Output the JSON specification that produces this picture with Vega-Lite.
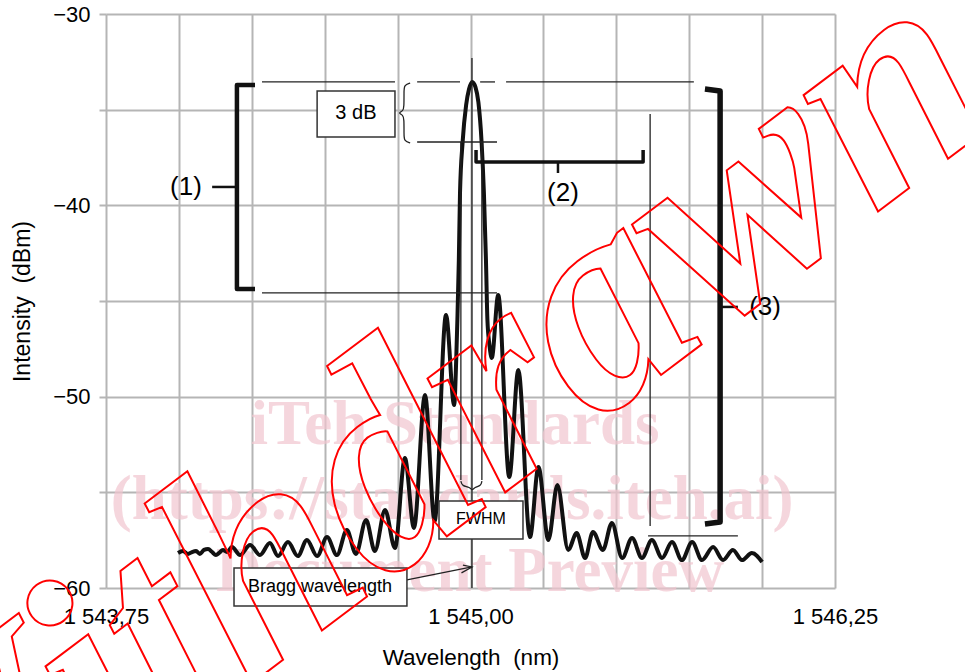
{
"$schema":"https://vega.github.io/schema/vega-lite/v6.json",
"width":729,"height":574,"autosize":"none",
"padding":{"left":106,"top":14,"right":130,"bottom":84},
"background":"white",
"config":{"view":{"stroke":null},"font":"Liberation Sans"},
"datasets":{
"curve":[
{"x":1543.997,"y":-58.17},{"x":1544.014,"y":-58.07},{"x":1544.031,"y":-58.22},{"x":1544.045,"y":-58.12},{"x":1544.059,"y":-58.07},{"x":1544.072,"y":-58.22},{"x":1544.086,"y":-58.01},{"x":1544.100,"y":-57.96},{"x":1544.114,"y":-58.12},{"x":1544.127,"y":-58.28},{"x":1544.138,"y":-58.17},{"x":1544.151,"y":-58.01},{"x":1544.165,"y":-58.12},
{"x":1544.182,"y":-57.86},{"x":1544.210,"y":-58.28},{"x":1544.244,"y":-57.75},{"x":1544.278,"y":-58.28},{"x":1544.312,"y":-57.65},{"x":1544.340,"y":-58.33},{"x":1544.374,"y":-57.60},{"x":1544.408,"y":-58.33},{"x":1544.439,"y":-57.49},{"x":1544.474,"y":-58.33},{"x":1544.508,"y":-57.34},{"x":1544.542,"y":-58.28},{"x":1544.576,"y":-56.97},{"x":1544.607,"y":-58.22},{"x":1544.642,"y":-56.45},{"x":1544.672,"y":-58.07},{"x":1544.707,"y":-55.92},{"x":1544.741,"y":-57.91},{"x":1544.775,"y":-53.21},{"x":1544.806,"y":-56.86},{"x":1544.844,"y":-49.91},{"x":1544.877,"y":-56.50},{"x":1544.916,"y":-45.73},{"x":1544.944,"y":-50.44},{"x":1544.951,"y":-48.08},{"x":1544.955,"y":-45.99},{"x":1544.960,"y":-42.86},{"x":1544.964,"y":-39.36},{"x":1544.973,"y":-36.69},{"x":1544.985,"y":-34.76},{"x":1544.995,"y":-33.92},{"x":1545.006,"y":-33.55},{"x":1545.017,"y":-33.82},{"x":1545.027,"y":-34.60},{"x":1545.038,"y":-36.69},{"x":1545.046,"y":-39.36},{"x":1545.053,"y":-42.86},{"x":1545.058,"y":-45.99},{"x":1545.065,"y":-47.30},{"x":1545.073,"y":-47.98},{"x":1545.095,"y":-44.69},{"x":1545.133,"y":-54.20},{"x":1545.164,"y":-48.61},{"x":1545.204,"y":-57.34},{"x":1545.233,"y":-53.68},{"x":1545.267,"y":-57.49},{"x":1545.298,"y":-54.62},{"x":1545.335,"y":-58.01},{"x":1545.364,"y":-57.13},{"x":1545.393,"y":-58.43},{"x":1545.420,"y":-57.07},{"x":1545.454,"y":-58.01},{"x":1545.485,"y":-56.60},{"x":1545.520,"y":-58.43},{"x":1545.554,"y":-57.39},{"x":1545.588,"y":-58.43},{"x":1545.622,"y":-57.49},{"x":1545.657,"y":-58.43},{"x":1545.691,"y":-57.60},{"x":1545.725,"y":-58.54},{"x":1545.760,"y":-57.60},{"x":1545.794,"y":-58.54},{"x":1545.832,"y":-57.86},{"x":1545.866,"y":-58.54},{"x":1545.900,"y":-58.01},{"x":1545.931,"y":-58.54},{"x":1545.965,"y":-58.17},{"x":1546.000,"y":-58.64}
],
"thin":[
{"x":1544.285,"x2":1544.741,"y":-33.55,"y2":-33.55},
{"x":1544.817,"x2":1544.964,"y":-33.55,"y2":-33.55},
{"x":1545.033,"x2":1545.084,"y":-33.55,"y2":-33.55},
{"x":1545.122,"x2":1545.766,"y":-33.55,"y2":-33.55},
{"x":1544.817,"x2":1545.091,"y":-36.69,"y2":-36.69},
{"x":1544.285,"x2":1545.091,"y":-44.58,"y2":-44.58},
{"x":1544.967,"x2":1544.967,"y":-36.69,"y2":-54.36},
{"x":1545.039,"x2":1545.039,"y":-36.69,"y2":-54.36},
{"x":1545.005,"x2":1545.005,"y":-32.3,"y2":-60},
{"x":1545.616,"x2":1545.616,"y":-35.23,"y2":-56.76},
{"x":1545.609,"x2":1545.917,"y":-57.28,"y2":-57.28},
{"x":1544.782,"x2":1545.005,"y":-59.58,"y2":-58.90}
],
"ticks":[
{"x":1544.114,"x2":1544.199,"y":-39.04,"y2":-39.04},
{"x":1545.300,"x2":1545.300,"y":-37.74,"y2":-38.31},
{"x":1545.856,"x2":1545.917,"y":-45.31,"y2":-45.31}
],
"b1":[{"x":1544.261,"y":-33.71,"i":0},{"x":1544.199,"y":-33.71,"i":1},{"x":1544.199,"y":-44.37,"i":2},{"x":1544.261,"y":-44.37,"i":3}],
"b2":[{"x":1545.019,"y":-37.11,"i":0},{"x":1545.019,"y":-37.74,"i":1},{"x":1545.592,"y":-37.74,"i":2},{"x":1545.592,"y":-37.11,"i":3}],
"b3":[{"x":1545.804,"y":-33.92,"i":0},{"x":1545.856,"y":-34.02,"i":1},{"x":1545.856,"y":-56.55,"i":2},{"x":1545.804,"y":-56.65,"i":3}],
"brace":[{"x":1544.793,"y":-33.61,"i":0},{"x":1544.772,"y":-33.71,"i":1},{"x":1544.772,"y":-34.08,"i":2},{"x":1544.772,"y":-34.86,"i":3},{"x":1544.769,"y":-35.07,"i":4},{"x":1544.751,"y":-35.17,"i":5},{"x":1544.769,"y":-35.28,"i":6},{"x":1544.772,"y":-35.49,"i":7},{"x":1544.772,"y":-36.27,"i":8},{"x":1544.772,"y":-36.64,"i":9},{"x":1544.793,"y":-36.74,"i":10}],
"fbrace":[{"x":1544.967,"y":-54.41,"i":0},{"x":1544.971,"y":-54.67,"i":1},{"x":1544.998,"y":-54.72,"i":2},{"x":1545.006,"y":-54.93,"i":3},{"x":1545.014,"y":-54.72,"i":4},{"x":1545.036,"y":-54.67,"i":5},{"x":1545.039,"y":-54.41,"i":6}],
"arrow":[{"x":1544.974,"y":-58.80,"i":0},{"x":1545.005,"y":-58.90,"i":1},{"x":1544.969,"y":-59.21,"i":2}],
"boxes":[{"x":1544.474,"x2":1544.741,"y":-34.02,"y2":-36.43},{"x":1544.892,"x2":1545.180,"y":-55.45,"y2":-57.44},{"x":1544.189,"x2":1544.782,"y":-58.955,"y2":-60.94}],
"big":[{"x":1544.024,"y":-39.04,"t":"(1)"},{"x":1545.317,"y":-39.36,"t":"(2)"},{"x":1546.010,"y":-45.31,"t":"(3)"}],
"l3":[{"x":1544.607,"y":-35.17,"t":"3 dB"}],
"lf":[{"x":1545.036,"y":-56.39,"t":"FWHM"}],
"lb":[{"x":1544.484,"y":-59.95,"t":"Bragg wavelength"}],
"wm":[{"x":1544.947,"y":-51.48,"t":"iTeh Standards"},{"x":1544.937,"y":-55.40,"t":"(https://standards.iteh.ai)"},{"x":1544.998,"y":-59.16,"t":"Document Preview"}],
"wd":[{"x":1544.772,"y":-53.1,"t":"Withdrawn"}]
},
"encoding":{
"x":{"field":"x","type":"quantitative","scale":{"domain":[1543.75,1546.25],"nice":false,"zero":false},
"axis":{"title":"Wavelength\u00a0\u00a0(nm)","values":[1543.75,1544,1544.25,1544.5,1544.75,1545,1545.25,1545.5,1545.75,1546,1546.25],
"labelExpr":"datum.value==1543.75?'1 543,75':(datum.value==1545?'1 545,00':(datum.value==1546.25?'1 546,25':''))",
"grid":true,"gridColor":"#b5b5b5","gridWidth":2,"ticks":false,"domain":false,"labelFontSize":22,"labelColor":"#000","labelPadding":18,"labelOverlap":false,"labelFlush":false,"titleFontSize":22.5,"titleFontWeight":"normal","titleColor":"#000","titleY":58,"titleBaseline":"top"}},
"y":{"field":"y","type":"quantitative","scale":{"domain":[-60,-30],"nice":false,"zero":false},
"axis":{"title":"Intensity\u00a0\u00a0(dBm)","values":[-60,-55,-50,-45,-40,-35,-30],
"labelExpr":"datum.value%10==0?datum.label:''",
"grid":true,"gridColor":"#b5b5b5","gridWidth":2,"ticks":true,"tickColor":"#b5b5b5","tickWidth":2,"tickSize":7,"domain":false,"labelFontSize":22,"labelColor":"#000","labelPadding":9,"labelOverlap":false,"labelFlush":false,"titleFontSize":23,"titleFontWeight":"normal","titleColor":"#000","titleX":-84,"titleBaseline":"middle"}}
},
"layer":[
{"data":{"name":"wm"},"mark":{"type":"text","font":"Liberation Serif","fontWeight":"bold","fontSize":63,"color":"#f2c6d0","opacity":0.7,"align":"center","baseline":"middle"},"encoding":{"text":{"field":"t"}}},
{"data":{"name":"curve"},"mark":{"type":"line","interpolate":"monotone","strokeWidth":4,"color":"#111"}},
{"data":{"name":"thin"},"mark":{"type":"rule","strokeWidth":1.3,"color":"#222"},"encoding":{"x2":{"field":"x2"},"y2":{"field":"y2"}}},
{"data":{"name":"ticks"},"mark":{"type":"rule","strokeWidth":2.5,"color":"#111"},"encoding":{"x2":{"field":"x2"},"y2":{"field":"y2"}}},
{"data":{"name":"b1"},"mark":{"type":"line","strokeWidth":4.5,"color":"#111","strokeJoin":"round"},"encoding":{"order":{"field":"i","type":"quantitative"}}},
{"data":{"name":"b2"},"mark":{"type":"line","strokeWidth":3.5,"color":"#111","strokeJoin":"round"},"encoding":{"order":{"field":"i","type":"quantitative"}}},
{"data":{"name":"b3"},"mark":{"type":"line","strokeWidth":5.5,"color":"#111","strokeJoin":"round"},"encoding":{"order":{"field":"i","type":"quantitative"}}},
{"data":{"name":"brace"},"mark":{"type":"line","interpolate":"basis","strokeWidth":1.3,"color":"#222"},"encoding":{"order":{"field":"i","type":"quantitative"}}},
{"data":{"name":"fbrace"},"mark":{"type":"line","interpolate":"basis","strokeWidth":1.3,"color":"#222"},"encoding":{"order":{"field":"i","type":"quantitative"}}},
{"data":{"name":"arrow"},"mark":{"type":"line","strokeWidth":1.3,"color":"#222"},"encoding":{"order":{"field":"i","type":"quantitative"}}},
{"data":{"name":"boxes"},"mark":{"type":"rect","fill":"white","stroke":"#333","strokeWidth":1.5},"encoding":{"x2":{"field":"x2"},"y2":{"field":"y2"}}},
{"data":{"name":"big"},"mark":{"type":"text","fontSize":26,"color":"#000","align":"center","baseline":"middle"},"encoding":{"text":{"field":"t"}}},
{"data":{"name":"l3"},"mark":{"type":"text","fontSize":20,"color":"#000","align":"center","baseline":"middle"},"encoding":{"text":{"field":"t"}}},
{"data":{"name":"lf"},"mark":{"type":"text","fontSize":16,"color":"#000","align":"center","baseline":"middle"},"encoding":{"text":{"field":"t"}}},
{"data":{"name":"lb"},"mark":{"type":"text","fontSize":18,"color":"#000","align":"center","baseline":"middle"},"encoding":{"text":{"field":"t"}}},
{"data":{"name":"wd"},"mark":{"type":"text","font":"Liberation Sans Narrow","fontSize":300,"fontWeight":"bold","fontStyle":"italic","angle":323,"fill":"transparent","stroke":"#ff0000","strokeWidth":2,"align":"center","baseline":"middle"},"encoding":{"text":{"field":"t"}}}
]
}
